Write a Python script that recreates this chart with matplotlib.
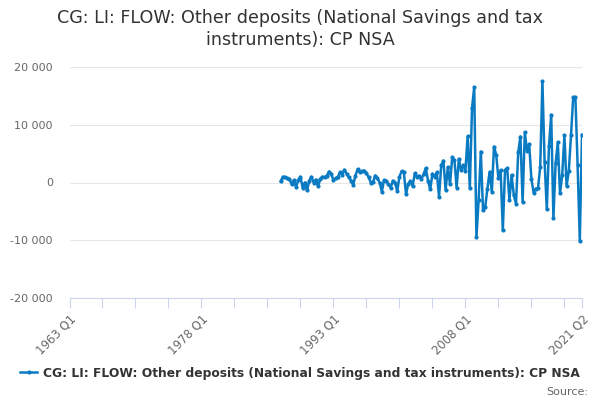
import matplotlib
matplotlib.use("Agg")
import matplotlib.pyplot as plt
from matplotlib.lines import Line2D
import numpy as np

# axis runs 1963 Q1 .. 2021 Q2, data starts 1987 Q1
quarter_labels = [f"{y} Q{q}" for y in range(1963, 2022) for q in range(1, 5)][:234]
start_index = quarter_labels.index("1987 Q1")

# values by year, four quarters each (last year has two)
values_1987_1996 = [
    200, 1000, 900, 750,
    600, -300, 400, -750,
    400, 1000, -900, 0,
    -1350, 300, 1000, 0,
    500, -650, 600, 1000,
    900, 1200, 1900, 1500,
    400, 750, 1000, 1750,
    1350, 2200, 1500, 900,
    300, -400, 1200, 2300,
    1750, 1950, 2050, 1600,
]
values_1997_2006 = [
    900, 0, 100, 1200,
    750, 0, -1600, 400,
    300, -300, -900, 300,
    0, -1500, 1000, 1950,
    1750, -2050, -200, 200,
    -600, 1600, 1000, 1200,
    600, 1500, 2500, 300,
    -1200, 1500, 1000, 1750,
    -2500, 2950, 3800, -1300,
    2650, -300, 4400, 3900,
]
values_2007_2021 = [
    -900, 4100, 2200, 3000,
    2000, 8000, -1000, 12900,
    16500, -9480, -3080, 5350,
    -4830, -4240, -1050, 1860,
    -1630, 6220, 4770, 700,
    2150, -8310, 2150, 2440,
    -3080, 1280, -2200, -3660,
    5230, 7960, -3370, 8700,
    5500, 6600, 580, -1740,
    -1050, -1000, 2700, 17550,
    3500, -4650, 6400, 11740,
    -6160, 3300, 6980, -1900,
    1280, 8140, -580, 1980,
    8140, 14770, 14770, 3020,
    -10060, 8260,
]
values = values_1987_1996 + values_1997_2006 + values_2007_2021

label_ticks = ["1963 Q1", "1978 Q1", "1993 Q1", "2008 Q1", "2021 Q2"]
y_ticks = [-20000, -10000, 0, 10000, 20000]

series_name = "CG: LI: FLOW: Other deposits (National Savings and tax instruments): CP NSA"
title = "CG: LI: FLOW: Other deposits (National Savings and tax\ninstruments): CP NSA"

line_color = "#0a7bc2"
axis_color = "#ccd6eb"

plt.rcParams["font.family"] = ["DejaVu Sans"]

fig = plt.figure(figsize=(6, 4), dpi=100)
ax = fig.add_axes([69.5 / 600, 1 - 298 / 400, (582 - 69.5) / 600, (298 - 67) / 400])

x = np.arange(start_index, start_index + len(values))
ax.plot(x, values, color=line_color, lw=1.8, marker="o", ms=3,
        markeredgewidth=0, zorder=3)

ax.set_xlim(0, len(quarter_labels) - 1)
ax.set_ylim(-20000, 20000)

ax.set_yticks(y_ticks)
ax.set_yticklabels([f"{v:,}".replace(",", " ") for v in y_ticks],
                   color="#666666", fontsize=8)
ax.tick_params(axis="y", length=0, pad=12)
ax.grid(axis="y", color="#e6e6e6", lw=0.8)
ax.set_axisbelow(True)

major = [quarter_labels.index(s) for s in label_ticks]
minor = [i for i in range(0, len(quarter_labels), 15) if i not in major]
ax.set_xticks(major)
ax.set_xticklabels(label_ticks, rotation=45, ha="right", va="top",
                   rotation_mode="anchor", color="#666666", fontsize=8.4)
ax.set_xticks(minor, minor=True)
ax.tick_params(axis="x", which="both", length=7.5, color=axis_color,
               width=0.8, pad=3)

for side in ["top", "right", "left"]:
    ax.spines[side].set_visible(False)
ax.spines["bottom"].set_color(axis_color)
ax.spines["bottom"].set_linewidth(0.8)

fig.text(0.5, 1 - 29 / 400, title, ha="center", va="center",
         fontsize=12.6, color="#333333", linespacing=1.3)

handle = Line2D([0], [0], color=line_color, lw=1.8, marker="o", ms=3,
                markeredgewidth=0)
fig.legend([handle], [series_name], loc="center",
           bbox_to_anchor=(0.5, 1 - 373 / 400), frameon=False,
           handlelength=1.4, handletextpad=0.5,
           prop={"weight": "bold", "size": 8.8}, labelcolor="#333333")

fig.text(0.98, 1 - 392 / 400, "Source:", ha="right", va="center",
         fontsize=8, color="#666666")

fig.savefig("out.png", dpi=100)
